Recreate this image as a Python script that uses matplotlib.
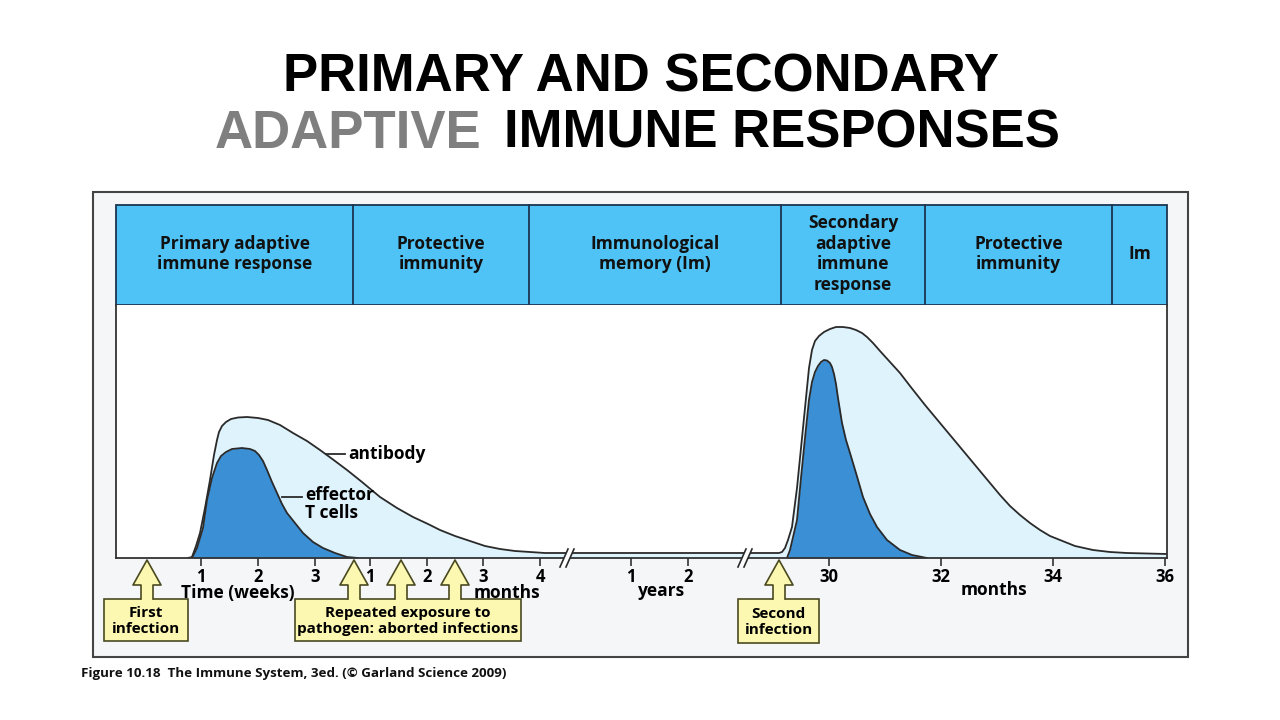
import matplotlib.pyplot as plt
from matplotlib.patches import Rectangle, Polygon

# ---- data (positions, heights above the time axis) ----
tick_pos = [201, 258, 315, 370, 427, 483, 540, 631, 688, 829, 941, 1053, 1165]
tick_labels = ['1', '2', '3', '1', '2', '3', '4', '1', '2', '30', '32', '34', '36']

# antibody curve (outer, light)
ab_x = [188, 192, 196, 200, 205, 210, 214, 217, 219, 222, 226, 231, 238, 247, 258,
        268, 280, 293, 307, 320, 335, 347, 362, 380, 397, 413, 428, 440, 455, 470,
        485, 500, 515, 530, 545, 600, 700, 779, 782, 785, 788, 792, 797, 803, 809,
        812, 815, 819, 824, 830, 836, 843, 850, 856, 862, 867, 873, 880, 890, 900,
        910, 925, 940, 960, 975, 990, 1000, 1010, 1020, 1030, 1040, 1050, 1060, 1075,
        1093, 1110, 1127, 1167]
ab_h = [0, 1, 12, 25, 50, 78, 103, 118, 126, 132, 136, 139, 140.5, 141, 140,
        138, 133, 125, 117, 108, 97, 88, 76, 61, 50, 41, 34, 28, 22, 17,
        12, 9, 7, 6, 5, 5, 5, 5, 6, 10, 18, 31, 70, 130, 190,
        208, 217, 222, 226, 229, 231, 231, 230, 228, 225, 221, 215, 207, 196, 185,
        172, 153, 135, 111, 93, 75, 63, 52, 43, 35, 28, 22, 18, 12,
        8, 6, 5, 4]

# effector T cells, primary response
t1_x = [192, 197, 203, 207, 212, 217, 221, 226, 232, 242, 250, 255, 259, 263, 267,
        272, 277, 282, 287, 295, 303, 313, 323, 335, 347, 358]
t1_h = [0, 10, 30, 58, 80, 95, 102, 106, 109, 110, 109, 107, 103, 97, 88,
        76, 65, 54, 45, 35, 25, 16, 10, 5, 1, 0]

# effector T cells, secondary response
t2_x = [787, 790, 794, 797, 801, 805, 809, 812, 815, 818, 821, 824, 827, 830, 832,
        834, 836, 838, 842, 846, 850, 856, 863, 870, 877, 887, 900, 912, 927]
t2_h = [0, 8, 25, 38, 80, 120, 158, 176, 186, 192, 196, 198, 197.5, 195, 191,
        184, 174, 160, 135, 118, 105, 85, 61, 44, 31, 18, 8, 3, 0]

phases = ['Primary adaptive\nimmune response', 'Protective\nimmunity',
          'Immunological\nmemory (Im)', 'Secondary\nadaptive\nimmune\nresponse',
          'Protective\nimmunity', 'Im']
phase_edges = [116, 353, 529, 781, 925, 1112, 1167]

# ---- styles ----
font = 'Open Sans'
header_col = '#4fc3f6'
light_col = '#dff3fc'
dark_col = '#3b8fd5'
yellow = '#fcf8b2'
edge = '#2a2a2a'

fig = plt.figure(figsize=(12.8, 7.2), dpi=100)
fig.patch.set_facecolor('white')

bg = fig.add_axes([0, 0, 1, 1])
bg.set_xlim(0, 1280)
bg.set_ylim(720, 0)
bg.axis('off')

pax = fig.add_axes([116/1280, (720-558)/720, 1051/1280, 253/720])
ov = fig.add_axes([0, 0, 1, 1])
ov.set_xlim(0, 1280)
ov.set_ylim(720, 0)
ov.axis('off')
ov.patch.set_alpha(0)

# title
bg.text(641, 78, 'PRIMARY AND SECONDARY', ha='center', va='center',
        fontsize=38, fontweight='bold', family='Liberation Sans', color='black')
bg.text(481, 134, 'ADAPTIVE', ha='right', va='center',
        fontsize=38, fontweight='bold', family='Liberation Sans', color='#7f7f7f')
bg.text(504, 134, 'IMMUNE RESPONSES', ha='left', va='center',
        fontsize=38, fontweight='bold', family='Liberation Sans', color='black')

# frame
bg.add_patch(Rectangle((93, 192), 1095, 465, facecolor='#f4f6f8', edgecolor='#444444', lw=1.5))
bg.add_patch(Rectangle((116, 205), 1051, 100, facecolor=header_col, edgecolor='#1c3550', lw=1.3))
for xe in phase_edges[1:-1]:
    bg.plot([xe, xe], [205, 305], color='#1c3550', lw=1.3)
for i, lab in enumerate(phases):
    cx = (phase_edges[i] + phase_edges[i+1]) / 2
    bg.text(cx, 254, lab, ha='center', va='center', fontsize=12.5, fontweight='bold',
            family=font, color='#111111', linespacing=1.2)

bg.text(81, 673, 'Figure 10.18  The Immune System, 3ed. (\u00a9 Garland Science 2009)',
        ha='left', va='center', fontsize=9.6, fontweight='bold', family=font, color='#111111')

# plot area
pax.set_xlim(116, 1167)
pax.set_ylim(0, 253)
pax.fill_between(ab_x, 0, ab_h, color=light_col, lw=0)
pax.plot(ab_x, ab_h, color=edge, lw=1.3)
pax.fill_between(t1_x, 0, t1_h, color=dark_col, lw=0)
pax.plot(t1_x, t1_h, color=edge, lw=1.3)
pax.fill_between(t2_x, 0, t2_h, color=dark_col, lw=0)
pax.plot(t2_x, t2_h, color=edge, lw=1.3)
pax.spines['top'].set_visible(False)
for s in ['left', 'right', 'bottom']:
    pax.spines[s].set_color('#333333')
    pax.spines[s].set_linewidth(1.3)
pax.set_yticks([])
pax.set_xticks(tick_pos, tick_labels)
pax.tick_params(axis='x', direction='out', length=6, width=1.2, color='#333333', pad=1.5)
for lab in pax.get_xticklabels():
    lab.set_fontfamily(font)
    lab.set_fontweight('bold')
    lab.set_fontsize(12)

# curve labels
ov.plot([326, 345], [454, 454], color=edge, lw=1.3)
ov.text(348, 454, 'antibody', ha='left', va='center', fontsize=12.5, fontweight='bold', family=font)
ov.plot([282, 302], [497, 497], color=edge, lw=1.3)
ov.text(305, 504, 'effector\nT cells', ha='left', va='center', fontsize=12.5,
        fontweight='bold', family=font, linespacing=1.0)

# axis breaks
for bx in [566, 744]:
    ov.add_patch(Polygon([(bx-6, 567), (bx+2, 549), (bx+8, 549), (bx, 567)],
                         facecolor='white', edgecolor='none', zorder=3))
    ov.plot([bx-6, bx+2], [567, 549], color=edge, lw=1.2, zorder=4)
    ov.plot([bx, bx+8], [567, 549], color=edge, lw=1.2, zorder=4)

# axis labels
for x, y, s in [(238, 593, 'Time (weeks)'), (507, 593, 'months'),
                (662, 591, 'years'), (994, 590, 'months')]:
    ov.text(x, y, s, ha='center', va='center', fontsize=12.5, fontweight='bold', family=font)


def up_arrow(x, top=560, base=599):
    hw, sw, hb = 14, 6, 585
    ov.add_patch(Polygon([(x, top), (x+hw, hb), (x+sw, hb), (x+sw, base+1),
                          (x-sw, base+1), (x-sw, hb), (x-hw, hb)],
                         facecolor=yellow, edgecolor='none', zorder=5))
    ov.plot([x-sw, x-sw, x-hw, x, x+hw, x+sw, x+sw],
            [base, hb, hb, top, hb, hb, base], color='#4a4a20', lw=1.2, zorder=6)


def box(x0, y0, x1, y1, text):
    ov.add_patch(Rectangle((x0, y0), x1-x0, y1-y0, facecolor=yellow,
                           edgecolor='#4a4a20', lw=1.2, zorder=4))
    ov.text((x0+x1)/2, (y0+y1)/2 + 1, text, ha='center', va='center', fontsize=11,
            fontweight='bold', family=font, linespacing=1.15, zorder=7)


box(104, 599, 188, 641, 'First\ninfection')
up_arrow(147)
box(295, 599, 521, 641, 'Repeated exposure to\npathogen: aborted infections')
for ax_ in [354, 401, 455]:
    up_arrow(ax_)
box(738, 599, 819, 643, 'Second\ninfection')
up_arrow(779)

fig.savefig('out.png', dpi=100)
